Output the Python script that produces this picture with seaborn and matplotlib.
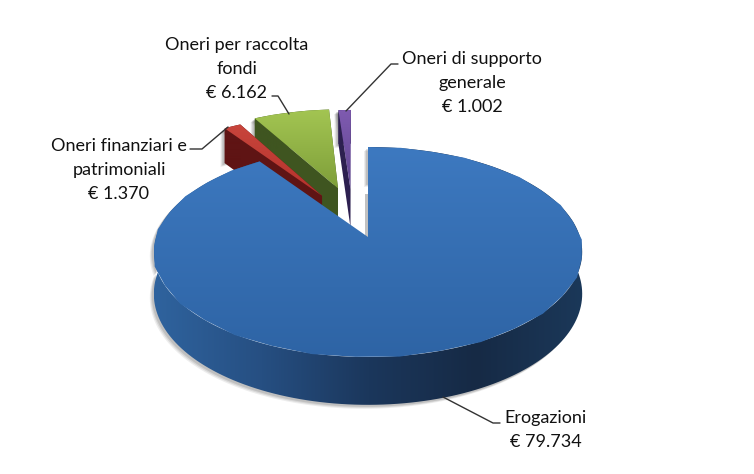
import numpy as np
import matplotlib
matplotlib.use('Agg')
import matplotlib.pyplot as plt
from matplotlib.colors import LinearSegmentedColormap
from matplotlib.patches import Polygon
import seaborn as sns

names = ['Erogazioni', 'Oneri finanziari e\npatrimoniali', 'Oneri per raccolta\nfondi',
         'Oneri di supporto\ngenerale']
values = [79734, 1370, 6162, 1002]

# look of each slice
explode = [0, 0.5, 0.53, 0.5]
nudge_x = [-1, 6, -1, -15]
top_colors = [('#3d79c0', '#2e64a5'), ('#c8453c', '#b5322c'), ('#a3c552', '#7f9f3a'), ('#7f5bb0', '#5f4590')]
wall_colors = [['#2f639e', '#264f82', '#1b375c', '#162a45', '#1b3859'],
               ['#5f1414', '#5f1414'], ['#3f5520', '#3f5520'], ['#2d2050', '#2d2050']]

# label positions in pixels (centre x, first line y) and leader lines
label_pos = [(546, 418), (119, 146), (237, 45), (472, 59)]
leaders = [[(443, 397), (493, 423), (500, 423)],
           [(228, 127), (202, 149), (190, 149)],
           [(289, 114), (278, 96), (272, 96)],
           [(346, 111), (391, 64), (398, 64)]]

# perspective of the tilted disc
cx, cy = 369, 237
rx, ry, persp, depth = 212, 102.86, 1 / 7, 41

sns.set_theme(style='white')
plt.rcParams['font.family'] = ['Lato', 'DejaVu Sans']

fig = plt.figure(figsize=(7.54, 4.74), dpi=100)
ax = fig.add_axes([0, 0, 1, 1])

wedges, _ = ax.pie(values, explode=explode, startangle=90, counterclock=False, radius=1)
geom = [(np.array(w.center), w.r, w.theta1, w.theta2, w.get_path().transformed(w.get_patch_transform()))
        for w in wedges]
for w in wedges:
    w.remove()

ax.set_aspect('auto')


def project(pts, dx=0, drop=0):
    pts = np.asarray(pts)
    k = 1 / (1 + persp * pts[:, 1])
    return np.column_stack([cx + dx + rx * pts[:, 0] * k, cy - ry * pts[:, 1] * k + drop * depth * k])


def fill_gradient(pts, cols, vertical, z):
    cmap = LinearSegmentedColormap.from_list('g', sns.color_palette(cols), N=256)
    x0, y0 = pts.min(axis=0)
    x1, y1 = pts.max(axis=0)
    grad = np.linspace(0, 1, 256)
    grad = grad.reshape(-1, 1) if vertical else grad.reshape(1, -1)
    im = ax.imshow(grad, cmap=cmap, extent=(x0, x1, y1, y0), aspect='auto', zorder=z, interpolation='bilinear')
    im.set_clip_path(Polygon(pts, transform=ax.transData))


# back slices first, the big one on top
for z, i in enumerate([3, 2, 1, 0]):
    z = 2 + 2 * z
    center, r, t1, t2, path = geom[i]
    dx = nudge_x[i]
    theta = np.radians(np.linspace(t1, t2, 200))
    arc = center + r * np.column_stack([np.cos(theta), np.sin(theta)])
    top = project(path.to_polygons(closed_only=False)[0], dx)

    # outer rim and the two cut faces, from the top outline down to the bottom one
    rim = np.vstack([project(arc, dx), project(arc, dx, 1)[::-1]])
    side_a = np.vstack([project([center, arc[0]], dx), project([arc[0], center], dx, 1)])
    side_b = np.vstack([project([center, arc[-1]], dx), project([arc[-1], center], dx, 1)])

    # soft grey shadow
    shapes = [rim] if i == 0 else [rim, top]
    for off, alpha in [((-4, 4), 0.10), ((-3, 3), 0.14), ((-2, 2), 0.18)]:
        for shape in shapes:
            ax.add_patch(Polygon(shape + off, closed=True, fc='#555555', ec='none', alpha=alpha, zorder=z - 1))
    if i == 0:
        mid = center * 0.55 + arc[-1] * 0.45
        strip = np.vstack([project([center, mid], dx), project([mid, center], dx - 3)])
        ax.add_patch(Polygon(strip, closed=True, fc='#999999', ec='none', alpha=0.6, zorder=z - 1))

    if i != 0:
        for shape in (side_a, side_b):
            ax.add_patch(Polygon(shape, closed=True, fc=wall_colors[i][0], ec='none', zorder=z))
    fill_gradient(rim, wall_colors[i], False, z + 0.1)
    fill_gradient(top, top_colors[i], True, z + 0.2)

    # labels and leader lines
    xs, ys = zip(*leaders[i])
    ax.plot(xs, ys, color='#333333', lw=1.0, zorder=12)
    money = f'{values[i]:,}'.replace(',', '.')
    ax.text(label_pos[i][0], label_pos[i][1] - 8, f'{names[i]}\n€ {money}', ha='center', va='top',
            fontsize=13, color='#111111', linespacing=1.6, zorder=13)

ax.set_xlim(0, 754)
ax.set_ylim(474, 0)
ax.axis('off')
fig.savefig('out.png', dpi=100, facecolor='white')
